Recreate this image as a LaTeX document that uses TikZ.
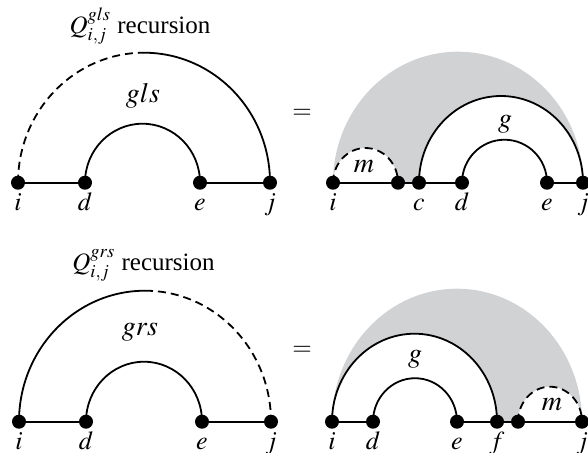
\documentclass[tikz,border=0pt]{standalone}
\usepackage{mathptmx}
\usepackage{fontspec}
\setmainfont{Liberation Serif}
\usetikzlibrary{positioning,backgrounds}
\definecolor{halo}{RGB}{209,210,212}

\begin{document}
\begin{tikzpicture}[x=0.5pt,y=-0.5pt,
    dot/.style={circle,fill=black,inner sep=0pt,minimum size=7pt},
    tag/.style={inner sep=1pt,text height=1.5ex,text depth=0.3ex,font=\fontsize{13}{15}\selectfont},
    word/.style={anchor=base,font=\fontsize{14}{16}\selectfont},
    title/.style={anchor=base,font=\fontsize{12.5}{14}\selectfont},
    wire/.style={line width=0.9pt},
    gap/.style={wire,dash pattern=on 4pt off 2.5pt}]

    \useasboundingbox (0,0) rectangle (588,452);

    % Q gls: left side
    \node[title] (atitle) at (140,33) {$Q^{gls}_{i,j}$ recursion};
    \node[dot] (ai) at (18,182.7) {};
    \node[dot] (ad) at (85,182.7) {};
    \node[dot] (ae) at (200,182.7) {};
    \node[dot] (aj) at (270,182.7) {};
    \draw[wire] (ai) -- (ad) (ae) -- (aj);
    \draw[gap] (ai.center) arc[start angle=180,end angle=270,x radius=126,y radius=130] coordinate (atop);
    \draw[wire] (atop) arc[start angle=270,end angle=360,x radius=126,y radius=130];
    \draw[wire] (ad.center) arc[start angle=180,end angle=360,x radius=57.5,y radius=59];
    \node[word] (agls) at (143,102) {$gls$};
    \node[tag,below=2pt of ai] {$i$};
    \node[tag,below=2pt of ad] {$d$};
    \node[tag,below=2pt of ae] {$e$};
    \node[tag,below=2pt of aj] {$j$};

    \node[title] (aeq) at (302,118) {$=$};

    % Q gls: right side
    \node[dot] (bi) at (333,182.7) {};
    \node[dot] (bm) at (398,182.7) {};
    \node[dot] (bc) at (419,182.7) {};
    \node[dot] (bd) at (462,182.7) {};
    \node[dot] (be) at (547,182.7) {};
    \node[dot] (bj) at (583,182.7) {};
    \begin{scope}[on background layer]
        \fill[halo] (bi.center) arc[start angle=180,end angle=360,x radius=125,y radius=131]
            arc[start angle=360,end angle=180,x radius=82,y radius=86.7]
            -- (bm.center)
            arc[start angle=360,end angle=180,x radius=32.5,y radius=34.7] -- cycle;
    \end{scope}
    \draw[wire] (bi) -- (bm) -- (bc) -- (bd) (be) -- (bj);
    \draw[gap] (bi.center) arc[start angle=180,end angle=360,x radius=32.5,y radius=34.7];
    \draw[wire] (bc.center) arc[start angle=180,end angle=360,x radius=82,y radius=86.7];
    \draw[wire] (bd.center) arc[start angle=180,end angle=360,x radius=42.5,y radius=43];
    \node[word] (bg) at (505,127) {$g$};
    \node[word] (bmm) at (364,172.6) {$m$};
    \node[tag,below=2pt of bi] {$i$};
    \node[tag,below=2pt of bc] {$c$};
    \node[tag,below=2pt of bd] {$d$};
    \node[tag,below=2pt of be] {$e$};
    \node[tag,below=2pt of bj] {$j$};

    % Q grs: left side
    \node[title] (ctitle) at (143.5,270) {$Q^{grs}_{i,j}$ recursion};
    \node[dot] (ci) at (19,421.7) {};
    \node[dot] (cd) at (86,421.7) {};
    \node[dot] (ce) at (202,421.7) {};
    \node[dot] (cj) at (271,421.7) {};
    \draw[wire] (ci) -- (cd) (ce) -- (cj);
    \draw[wire] (ci.center) arc[start angle=180,end angle=270,x radius=126,y radius=131] coordinate (ctop);
    \draw[gap] (ctop) arc[start angle=270,end angle=360,x radius=126,y radius=131];
    \draw[wire] (cd.center) arc[start angle=180,end angle=360,x radius=58,y radius=60];
    \node[word] (cgrs) at (140,335) {$grs$};
    \node[tag,below=2pt of ci] {$i$};
    \node[tag,below=2pt of cd] {$d$};
    \node[tag,below=2pt of ce] {$e$};
    \node[tag,below=2pt of cj] {$j$};

    \node[title] (ceq) at (302,355) {$=$};

    % Q grs: right side
    \node[dot] (di) at (332,421.7) {};
    \node[dot] (dd) at (373,421.7) {};
    \node[dot] (de) at (457,421.7) {};
    \node[dot] (df) at (497,421.7) {};
    \node[dot] (dm) at (518,421.7) {};
    \node[dot] (dj) at (582,421.7) {};
    \begin{scope}[on background layer]
        \fill[halo] (di.center) arc[start angle=180,end angle=360,x radius=125,y radius=133]
            arc[start angle=360,end angle=180,x radius=32,y radius=35]
            -- (df.center)
            arc[start angle=360,end angle=180,x radius=82.5,y radius=88] -- cycle;
    \end{scope}
    \draw[wire] (di) -- (dd) (de) -- (df) -- (dm) -- (dj);
    \draw[wire] (di.center) arc[start angle=180,end angle=360,x radius=82.5,y radius=88];
    \draw[wire] (dd.center) arc[start angle=180,end angle=360,x radius=42,y radius=43.5];
    \draw[gap] (dm.center) arc[start angle=180,end angle=360,x radius=32,y radius=35];
    \node[word] (dg) at (415,362.7) {$g$};
    \node[word] (dmm) at (552,410) {$m$};
    \node[tag,below=2pt of di] {$i$};
    \node[tag,below=2pt of dd] {$d$};
    \node[tag,below=2pt of de] {$e$};
    \node[tag,below=2pt of df] {$f$};
    \node[tag,below=2pt of dj] {$j$};

\end{tikzpicture}
\end{document}
